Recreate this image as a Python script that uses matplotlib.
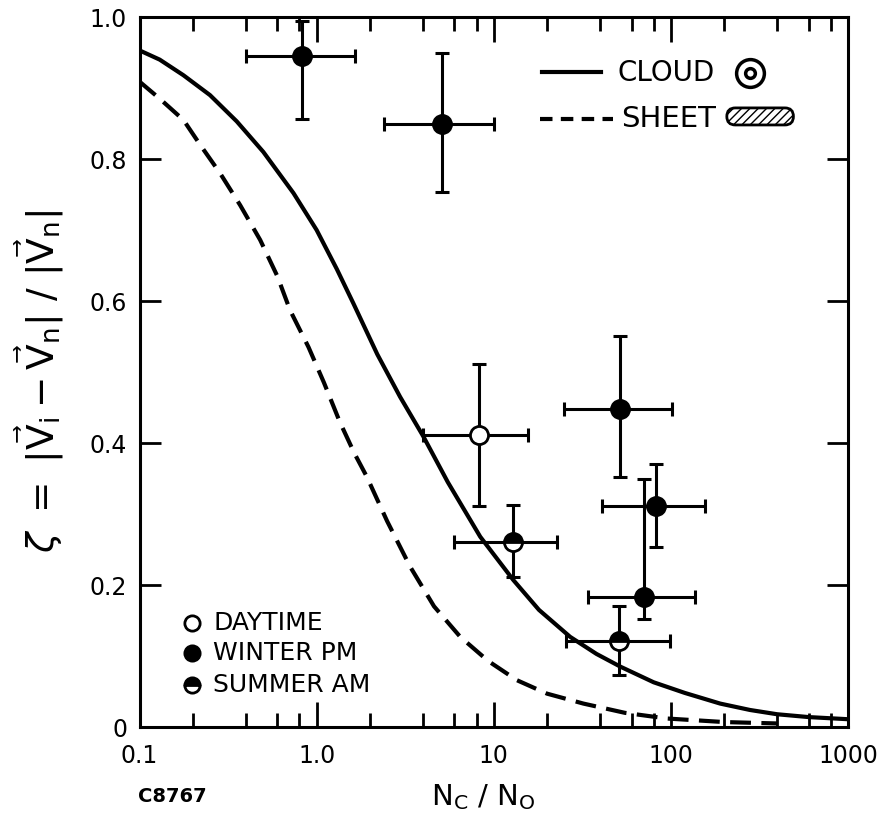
import matplotlib
matplotlib.use("Agg")
import matplotlib.pyplot as plt
from matplotlib.patches import FancyBboxPatch
import numpy as np

plt.rcParams['font.family'] = ['DejaVu Sans']
plt.rcParams['mathtext.fontset'] = 'dejavusans'

# theory curves
cloud_x = [0.1, 0.13, 0.177, 0.25, 0.354, 0.5, 0.74, 1.0, 1.3, 1.61, 2.2, 2.96, 4.01, 5.5,
           8.39, 12.9, 18, 27, 38, 51.9, 80, 120, 190, 280, 398, 600, 1000]
cloud_y = [0.953, 0.94, 0.918, 0.89, 0.853, 0.81, 0.752, 0.70, 0.645, 0.597, 0.525, 0.465, 0.409, 0.345,
           0.268, 0.207, 0.165, 0.127, 0.103, 0.085, 0.063, 0.048, 0.033, 0.024, 0.018, 0.014, 0.011]
sheet_x = [0.1, 0.13, 0.177, 0.22, 0.285, 0.37, 0.48, 0.6, 0.708, 0.9, 1.1, 1.35, 1.63, 1.92,
           2.5, 3.37, 4.6, 6.47, 9.3, 13.5, 20, 32.1, 55, 95, 200, 400]
sheet_y = [0.909, 0.885, 0.855, 0.82, 0.780, 0.735, 0.686, 0.635, 0.587, 0.535, 0.485, 0.43, 0.386, 0.3525,
           0.29, 0.226, 0.17, 0.127, 0.093, 0.066, 0.047, 0.033, 0.02, 0.012, 0.007, 0.005]

# measurements: centre, lower and upper bounds
winter_x = [0.83, 5.1, 51.4, 82, 70.8]
winter_y = [0.945, 0.850, 0.448, 0.311, 0.183]
winter_xlo = [0.40, 2.4, 25, 40.8, 34]
winter_xhi = [1.64, 10.0, 101.6, 156.7, 137]
winter_ylo = [0.856, 0.754, 0.3525, 0.253, 0.152]
winter_yhi = [0.995, 0.95, 0.551, 0.370, 0.350]

day_x = [8.25]
day_y = [0.411]
day_xlo = [4.0]
day_xhi = [15.6]
day_ylo = [0.311]
day_yhi = [0.511]

summer_x = [12.8, 51]
summer_y = [0.26, 0.1215]
summer_xlo = [6.0, 25.6]
summer_xhi = [22.9, 98.7]
summer_ylo = [0.212, 0.073]
summer_yhi = [0.313, 0.171]

fig = plt.figure(figsize=(8.91, 8.19), dpi=100)
ax = fig.add_axes([0.1566, 0.1123, 0.7951, 0.8669])

ax.plot(cloud_x, cloud_y, color='black', lw=3, solid_capstyle='butt', solid_joinstyle='round')
ax.plot(sheet_x, sheet_y, color='black', lw=3, dashes=(5, 2.5))


def bars(x, y, xlo, xhi, ylo, yhi, **mk):
    x = np.array(x); y = np.array(y)
    xerr = [x - np.array(xlo), np.array(xhi) - x]
    yerr = [y - np.array(ylo), np.array(yhi) - y]
    ax.errorbar(x, y, xerr=xerr, yerr=yerr, fmt='none', ecolor='black',
                elinewidth=2.2, capsize=5, capthick=2.2, clip_on=False)
    ax.plot(x, y, 'o', color='black', markersize=13, mew=2, zorder=5, **mk)


bars(winter_x, winter_y, winter_xlo, winter_xhi, winter_ylo, winter_yhi,
     markerfacecolor='black')
bars(day_x, day_y, day_xlo, day_xhi, day_ylo, day_yhi,
     markerfacecolor='white')
bars(summer_x, summer_y, summer_xlo, summer_xhi, summer_ylo, summer_yhi,
     fillstyle='top', markerfacecolor='black', markerfacecoloralt='white')

ax.set_xscale('log')
ax.set_xlim(0.1, 1000)
ax.set_ylim(0, 1.0)
ax.set_xticks([0.1, 1, 10, 100, 1000])
ax.set_xticklabels(['0.1', '1.0', '10', '100', '1000'])
ax.set_xticks([m * d for d in [0.1, 1, 10, 100] for m in [2, 4, 6, 8]], minor=True)
ax.set_xticklabels([], minor=True)
ax.set_yticks([0, 0.2, 0.4, 0.6, 0.8, 1.0])
ax.set_yticklabels(['0', '0.2', '0.4', '0.6', '0.8', '1.0'])

ax.tick_params(which='both', direction='in', top=True, right=True, width=2, labelsize=17)
ax.tick_params(axis='x', which='major', length=18, pad=12)
ax.tick_params(axis='x', which='minor', length=10)
ax.tick_params(axis='y', which='major', length=15, pad=9)
for s in ax.spines.values():
    s.set_linewidth(2.2)

# top-right key
tr = ax.transAxes
ax.plot([0.568, 0.652], [0.923, 0.923], color='black', lw=3, transform=tr)
ax.text(0.674, 0.921, 'CLOUD', transform=tr, fontsize=20, va='center', ha='left')
ax.plot([0.862], [0.921], 'o', transform=tr, markersize=20, mfc='white', mec='black', mew=2.5, clip_on=False)
ax.plot([0.862], [0.921], 'o', transform=tr, markersize=7, mfc='white', mec='black', mew=2.5, clip_on=False)
ax.plot([0.565, 0.668], [0.857, 0.857], color='black', lw=3, dashes=(3, 2), transform=tr)
ax.text(0.680, 0.857, 'SHEET', transform=tr, fontsize=21, va='center', ha='left')
pill = FancyBboxPatch((0.829, 0.848), 0.094, 0.024, boxstyle='round,pad=0,rounding_size=0.012',
                      transform=tr, facecolor='white', edgecolor='black', lw=2, hatch='////')
ax.add_patch(pill)

# bottom-left key
ax.plot([0.074], [0.146], 'o', transform=tr, markersize=11, mfc='white', mec='black', mew=2)
ax.plot([0.074], [0.1038], 'o', transform=tr, markersize=11, mfc='black', mec='black', mew=2)
ax.plot([0.074], [0.0592], 'o', transform=tr, markersize=11, fillstyle='top',
        mfc='black', mfcalt='white', mec='black', mew=2)
ax.text(0.104, 0.146, 'DAYTIME', transform=tr, fontsize=18, va='center', ha='left')
ax.text(0.104, 0.1038, 'WINTER PM', transform=tr, fontsize=18, va='center', ha='left')
ax.text(0.104, 0.0592, 'SUMMER AM', transform=tr, fontsize=18, va='center', ha='left')

fig.text(0.045, 0.534,
         r'$\zeta\ =\ |\vec{\mathrm{V}}_{\mathrm{i}} - \vec{\mathrm{V}}_{\mathrm{n}}|\ /\ |\vec{\mathrm{V}}_{\mathrm{n}}|$',
         rotation=90, fontsize=27, ha='center', va='center')
fig.text(0.542, 0.027, r'N$_{\mathrm{C}}$ / N$_{\mathrm{O}}$', fontsize=21, ha='center', va='center')
fig.text(0.193, 0.027, 'C8767', fontsize=14, fontweight='bold', ha='center', va='center')

fig.savefig('out.png', dpi=100)
